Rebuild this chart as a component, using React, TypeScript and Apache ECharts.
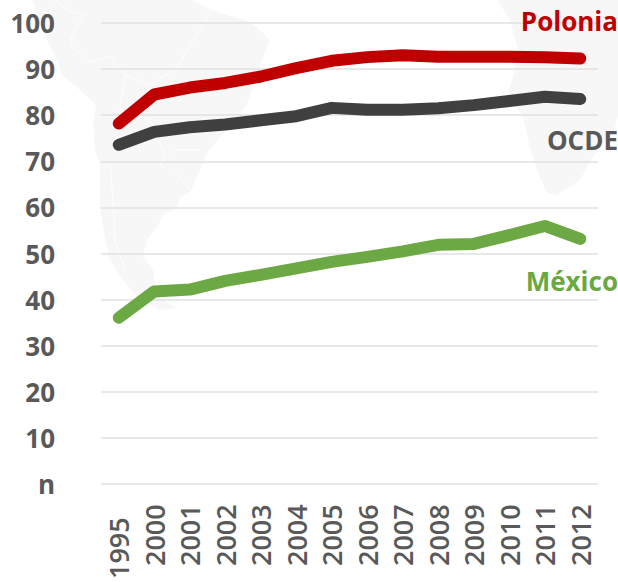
import React, { useEffect, useRef } from "react";
import * as echarts from "echarts";

const years = ["1995","2000","2001","2002","2003","2004","2005","2006","2007","2008","2009","2010","2011","2012"];
const polonia = [78.2,84.5,86,87,88.4,90.2,91.8,92.6,93,92.7,92.7,92.7,92.6,92.3];
const ocde = [73.6,76.4,77.4,78,78.9,79.8,81.6,81.2,81.2,81.5,82.2,83.1,84,83.5];
const mexico = [36.1,41.8,42.2,44.1,45.4,46.8,48.2,49.3,50.5,51.9,52.1,54,56,53.2];
const yTicks: Record<number, string> = { 0: "n" };
const FONT = "'Open Sans', sans-serif";
const MAP = "#f7f7f8";

const southAmerica = [[33,0],[38,20],[48,42],[58,62],[62,75],[80,90],[96,105],[93,125],[95,150],[100,165],[100,207],[103,227],[110,260],[123,280],[137,297],[160,310],[177,308],[157,297],[153,270],[143,257],[147,240],[157,227],[163,215],[177,208],[180,197],[190,192],[200,170],[207,153],[222,135],[247,105],[258,70],[270,40],[260,30],[247,20],[220,13],[207,8],[193,0]];
const africa = [[497,0],[510,20],[518,50],[513,77],[508,93],[523,117],[530,147],[538,173],[547,193],[557,195],[580,180],[593,157],[613,133],[618,117],[618,0]];
const borders = [
  [[55,0],[70,12],[85,14],[72,35],[70,45],[90,62],[110,56],[125,75],[150,85],[175,70],[200,30],[212,8]],
  [[125,75],[120,110],[150,120],[165,155],[160,165],[175,150],[200,150]],
  [[170,170],[180,178],[190,190]],
  [[110,165],[113,200],[115,240],[125,270]],
];

export default function App() {
  const ref = useRef<HTMLDivElement>(null);
  useEffect(() => {
    document.body.style.margin = "0";
    const chart = echarts.init(ref.current!, null, { renderer: "svg" });
    const line = (name: string, data: number[], color: string) => ({
      name, type: "line", data, showSymbol: false, symbol: "none", smooth: false,
      lineStyle: { color, width: 12, cap: "round", join: "round" },
      clip: false, z: 3,
    });
    const label = (text: string, right: number, y: number, fill: string) => ({
      type: "text", x: 618 - right, y, z: 10,
      style: { text, fill, font: `bold 26px ${FONT}`, textAlign: "right", textVerticalAlign: "middle" },
    });
    chart.setOption({
      animation: false,
      backgroundColor: "#ffffff",
      grid: { left: 101, right: 20, top: 23, bottom: 97, containLabel: false },
      xAxis: {
        type: "category",
        data: years.map((value) => value === "1995"
          ? { value, textStyle: { padding: [0, 13, 0, 0] } } : value),
        boundaryGap: true,
        axisLine: { show: false }, axisTick: { show: false }, splitLine: { show: false },
        axisLabel: {
          rotate: 90, margin: 20, interval: 0, color: "#595959",
          fontFamily: FONT, fontWeight: 600, fontSize: 27,
        },
      },
      yAxis: {
        type: "value", min: 0, max: 100, interval: 10,
        axisLine: { show: false }, axisTick: { show: false },
        splitLine: { lineStyle: { color: "#e0e0e0", width: 1.5 } },
        axisLabel: {
          margin: 46, color: "#595959", fontFamily: FONT, fontWeight: "bold", fontSize: 26,
          formatter: (v: number) => yTicks[v] ?? String(v),
        },
      },
      graphic: [
        { type: "polygon", z: -10, silent: true, shape: { points: southAmerica }, style: { fill: MAP } },
        { type: "polygon", z: -10, silent: true, shape: { points: africa }, style: { fill: MAP } },
        ...borders.map((points) => ({
          type: "polyline", z: -9, silent: true, shape: { points },
          style: { stroke: "#ffffff", lineWidth: 1, fill: "none" },
        })),
        label("Polonia", 0, 21, "#c00000"),
        label("OCDE", 0, 140, "#595959"),
        label("México", 0, 281, "#6aa842"),
      ],
      series: [line("Polonia", polonia, "#c00000"), line("OCDE", ocde, "#404040"), line("México", mexico, "#6ca944")],
    });
    return () => chart.dispose();
  }, []);
  return <div ref={ref} style={{ width: 618, height: 582 }} />;
}
